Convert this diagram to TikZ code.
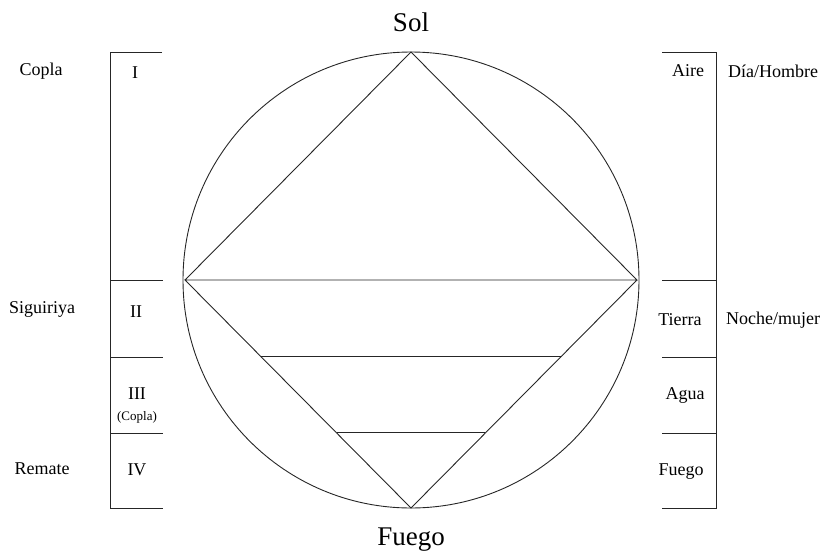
\documentclass[tikz,border=0pt]{standalone}
\usepackage{fontspec}
\setmainfont{Liberation Serif}
\begin{document}
\begin{tikzpicture}[x=1pt,y=-1pt,
  ln/.style={line width=0.9pt,black!85},
  big/.style={font=\fontsize{27}{30}\selectfont},
  lab/.style={font=\fontsize{18}{20}\selectfont},
  sml/.style={font=\fontsize{13}{15}\selectfont}]
\useasboundingbox (0,0) rectangle (823,555);
% key points
\coordinate (C) at (411,280);
\coordinate (T) at (411,52);
\coordinate (L) at (185,280);
\coordinate (R) at (637,280);
\coordinate (B) at (411,508);
\coordinate (a1) at (261,356);
\coordinate (a2) at (561,356);
\coordinate (b1) at (337,432);
\coordinate (b2) at (485,432);
% circle and figures
\draw[ln] (C) circle[radius=228];
\draw[ln] (L) -- (T) -- (R) -- (L) -- (B) -- (R);
\draw[ln] (a1) -- (a2);
\draw[ln] (b1) -- (b2);
% left bracket
\draw[ln] (162,52) -- (110,52) -- (110,508) -- (163,508);
\draw[ln] (110,280) -- (163,280);
\draw[ln] (110,357) -- (163,357);
\draw[ln] (110,433) -- (163,433);
% right bracket
\draw[ln] (662,52) -- (716,52) -- (716,508) -- (662,508);
\draw[ln] (662,280) -- (716,280);
\draw[ln] (662,357) -- (716,357);
\draw[ln] (662,433) -- (716,433);
% titles
\node[big] (sol) at (411,22) {Sol};
\node[big] (fuegoB) at (411,540) {Fuego};
% left labels
\node[lab] (copla) at (41,71) {Copla};
\node[lab] (sig) at (42,309) {Siguiriya};
\node[lab] (rem) at (42,469) {Remate};
\node[lab] (i1) at (135,73) {I};
\node[lab] (i2) at (136,312) {II};
\node[lab] (i3) at (137,394) {III};
\node[sml] (cop2) at (137,417) {(Copla)};
\node[lab] (i4) at (137,470) {IV};
% right labels
\node[lab] (aire) at (688,71) {Aire};
\node[lab] (dia) at (773,71) {Día/Hombre};
\node[lab] (tierra) at (680,320) {Tierra};
\node[lab] (noche) at (773,320) {Noche/mujer};
\node[lab] (agua) at (685,395) {Agua};
\node[lab] (fuegoR) at (681,472) {Fuego};
\end{tikzpicture}
\end{document}
